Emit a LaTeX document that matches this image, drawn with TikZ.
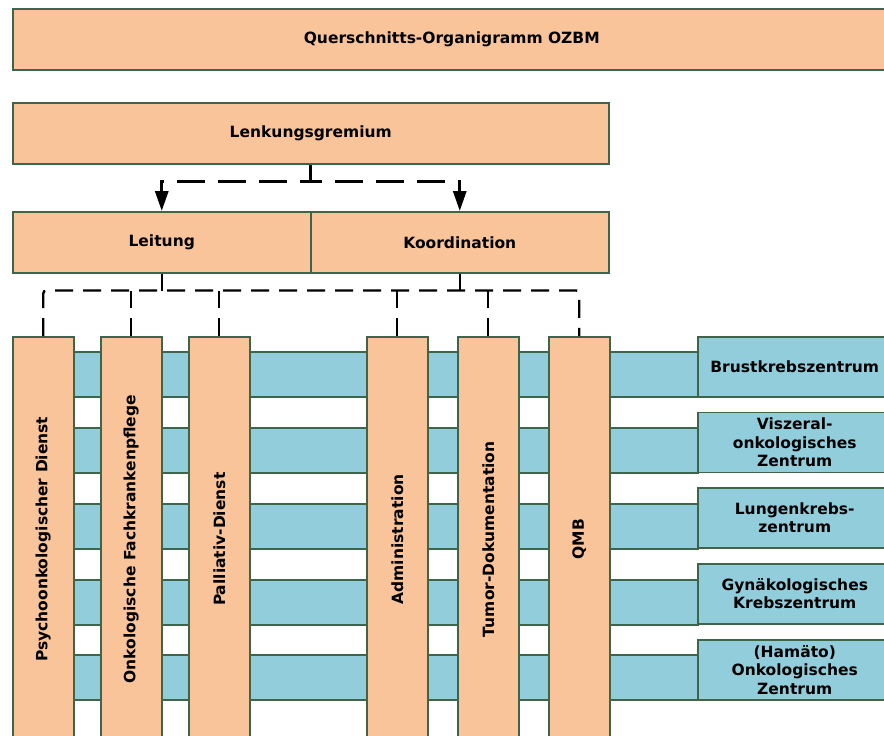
\documentclass[tikz,border=0pt]{standalone}
\usepackage{fontspec}
\setmainfont{DejaVu Sans}
\usetikzlibrary{arrows.meta}
\definecolor{boxfill}{HTML}{F9C49A}
\definecolor{stripfill}{HTML}{92CDDC}
\definecolor{edge}{HTML}{3E6549}
\begin{document}
\begin{tikzpicture}[x=1pt,y=-1pt,
  box/.style={draw=edge, line width=1.5pt, fill=boxfill, anchor=north west, inner sep=0pt,
    font=\bfseries\fontsize{15.5}{18.5}\selectfont, align=center},
  bar/.style={box, minimum width=61pt, minimum height=405pt},
  center/.style={draw=edge, line width=1.5pt, fill=stripfill, anchor=north west, inner sep=0pt,
    font=\bfseries\fontsize{15.5}{18.5}\selectfont, align=center, minimum width=194pt, minimum height=60pt},
  strip/.style={draw=edge, line width=1.5pt, fill=stripfill, anchor=north west, inner sep=0pt,
    minimum width=657pt, minimum height=45pt},
  topconn/.style={line width=3pt, dash pattern=on 28pt off 13pt},
  conn/.style={line width=2.4pt, dash pattern=on 18pt off 10pt},
  tip/.style={-{Triangle[length=20pt,width=13pt]}}
]
\useasboundingbox (0,0) rectangle (884,736);

% header
\node[box, minimum width=878pt, minimum height=61pt] (top) at (12,8) {Querschnitts-Organigramm OZBM};
\node[box, minimum width=596pt, minimum height=61pt] (lenk) at (12,102) {Lenkungsgremium};
\node[box, minimum width=298pt, minimum height=61pt] (lei) at (12,211) {Leitung};
\node[box, minimum width=298pt, minimum height=61pt] (koo) at (310,211) {Koordination};

% horizontal strips
\node[strip] (s1) at (40,351) {};
\node[strip] (s2) at (40,427) {};
\node[strip] (s3) at (40,503) {};
\node[strip] (s4) at (40,579) {};
\node[strip] (s5) at (40,654) {};

% vertical bars
\node[bar] (b1) at (12,336) {\rotatebox{90}{Psychoonkologischer Dienst}};
\node[bar] (b2) at (100,336) {\rotatebox{90}{Onkologische Fachkrankenpflege}};
\node[bar] (b3) at (188,336) {\rotatebox{90}{Palliativ-Dienst}};
\node[bar] (b4) at (366,336) {\rotatebox{90}{Administration}};
\node[bar] (b5) at (457,336) {\rotatebox{90}{Tumor-Dokumentation}};
\node[bar] (b6) at (548,336) {\rotatebox{90}{QMB}};

% centres
\node[center] (c1) at (697,336) {Brustkrebszentrum};
\node[center] (c2) at (697,411.5) {Viszeral-\\onkologisches\\Zentrum};
\node[center] (c3) at (697,487) {Lungenkrebs-\\zentrum};
\node[center] (c4) at (697,563) {Gynäkologisches\\Krebszentrum};
\node[center] (c5) at (697,639) {(Hamäto)\\Onkologisches\\Zentrum};

% top connectors
\draw[topconn, tip] (lenk.south) -- ++(0,17) -| (lei.north);
\draw[topconn, tip] (lenk.south) -- ++(0,17) -| (koo.north);

% lower connectors
\path (lei.south) ++(0,17) coordinate (bus);
\draw[conn] (lei.south) -- (bus);
\draw[conn] (koo.south) -- (koo.south |- bus);
\draw[conn, rounded corners=3pt] (b1.north) |- (b6.north |- bus) -- (b6.north);
\draw[conn] (b2.north) -- (b2.north |- bus);
\draw[conn] (b3.north) -- (b3.north |- bus);
\draw[conn] (b4.north) -- (b4.north |- bus);
\draw[conn] (b5.north) -- (b5.north |- bus);
\end{tikzpicture}
\end{document}
